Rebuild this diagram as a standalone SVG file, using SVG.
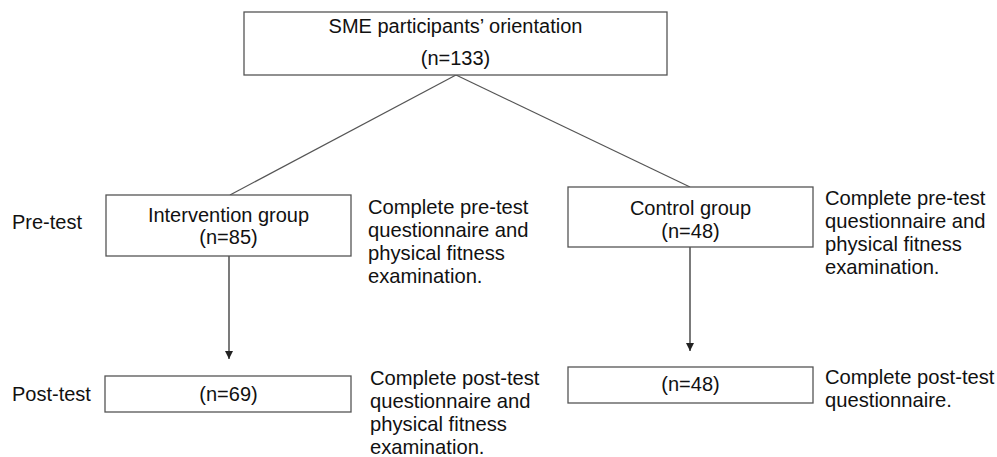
<svg xmlns="http://www.w3.org/2000/svg" width="997" height="457" viewBox="0 0 997 457">
<style>
  text { font-family: "Liberation Sans", Arial, sans-serif; fill: #111; }
  .b { font-size: 20px; }
  .s { font-size: 20.2px; }
  .c { text-anchor: middle; }
  .box { fill: #fff; stroke: #555; stroke-width: 1.3; }
  .ln { stroke: #555; stroke-width: 1.2; fill: none; }
  .ar { stroke: #222; stroke-width: 1.2; fill: none; }
</style>
<defs>
  <marker id="ah" markerWidth="8" markerHeight="8" refX="8" refY="4" orient="auto" markerUnits="userSpaceOnUse">
    <path d="M0,0 L8,4 L0,8 Z" fill="#222"/>
  </marker>
</defs>
<rect width="997" height="457" fill="#fff"/>

<g id="connectors">
  <line class="ln" x1="456" y1="75" x2="230" y2="195"/>
  <line class="ln" x1="456" y1="75" x2="690" y2="187"/>
  <line class="ar" x1="229" y1="256" x2="229" y2="359" marker-end="url(#ah)"/>
  <line class="ar" x1="690" y1="247" x2="690" y2="351" marker-end="url(#ah)"/>
</g>

<g id="orientation">
  <rect class="box" x="244" y="12" width="423" height="63"/>
  <text class="b c" x="455.5" y="33">SME participants’ orientation</text>
  <text class="b c" x="455.5" y="65">(n=133)</text>
</g>

<g id="pretest-label">
  <text class="b" x="12" y="229">Pre-test</text>
</g>
<g id="posttest-label">
  <text class="b" x="12" y="401">Post-test</text>
</g>

<g id="intervention">
  <rect class="box" x="106" y="195" width="245" height="61"/>
  <text class="b c" x="228.5" y="222">Intervention group</text>
  <text class="b c" x="228.5" y="244">(n=85)</text>
</g>
<g id="intervention-pre-note">
  <text class="s" x="368" y="214">Complete pre-test</text>
  <text class="s" x="368" y="237">questionnaire and</text>
  <text class="s" x="368" y="260">physical fitness</text>
  <text class="s" x="368" y="283">examination.</text>
</g>

<g id="control">
  <rect class="box" x="568" y="187" width="245" height="60"/>
  <text class="b c" x="690.5" y="215">Control group</text>
  <text class="b c" x="690.5" y="238">(n=48)</text>
</g>
<g id="control-pre-note">
  <text class="s" x="825" y="205">Complete pre-test</text>
  <text class="s" x="825" y="228">questionnaire and</text>
  <text class="s" x="825" y="251">physical fitness</text>
  <text class="s" x="825" y="274">examination.</text>
</g>

<g id="intervention-post">
  <rect class="box" x="105" y="376" width="246" height="36"/>
  <text class="b c" x="228.5" y="401">(n=69)</text>
</g>
<g id="intervention-post-note">
  <text class="s" x="370" y="385">Complete post-test</text>
  <text class="s" x="370" y="408">questionnaire and</text>
  <text class="s" x="370" y="431">physical fitness</text>
  <text class="s" x="370" y="454">examination.</text>
</g>

<g id="control-post">
  <rect class="box" x="568" y="367" width="245" height="36"/>
  <text class="b c" x="690.5" y="391">(n=48)</text>
</g>
<g id="control-post-note">
  <text class="s" x="825" y="384">Complete post-test</text>
  <text class="s" x="825" y="407">questionnaire.</text>
</g>
</svg>
